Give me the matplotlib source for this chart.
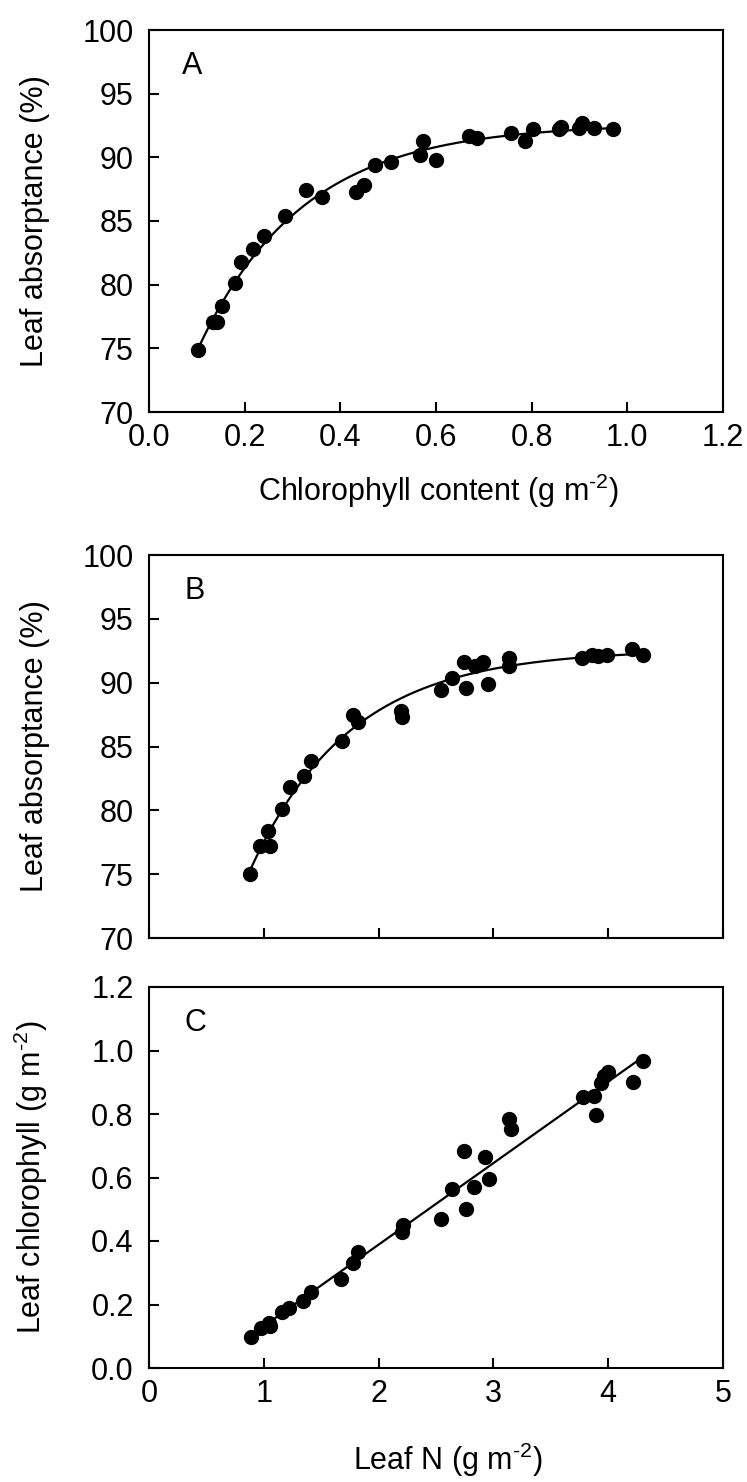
import numpy as np
import matplotlib
matplotlib.use("Agg")
import matplotlib.pyplot as plt

plt.rcParams['font.family'] = ['Liberation Sans', 'DejaVu Sans']
plt.rcParams['mathtext.fontset'] = 'custom'
plt.rcParams['mathtext.rm'] = 'Liberation Sans'
plt.rcParams['mathtext.it'] = 'Liberation Sans:italic'

# panel A: absorptance vs chlorophyll
chl_a = [0.102, 0.134, 0.142, 0.153, 0.179, 0.193, 0.217, 0.240, 0.285, 0.329,
         0.362, 0.432, 0.450, 0.472, 0.505, 0.566, 0.573, 0.599, 0.669, 0.686,
         0.756, 0.786, 0.802, 0.858, 0.862, 0.898, 0.905, 0.930, 0.970]
abs_a = [74.9, 77.1, 77.1, 78.3, 80.1, 81.8, 82.8, 83.8, 85.4, 87.4,
         86.9, 87.3, 87.8, 89.4, 89.6, 90.2, 91.3, 89.8, 91.7, 91.5,
         91.9, 91.3, 92.2, 92.2, 92.4, 92.3, 92.7, 92.3, 92.2]

# panel B: absorptance vs leaf N
n_b = [0.88, 0.967, 1.057, 1.04, 1.157, 1.23, 1.347, 1.407, 1.68, 1.773,
       1.817, 2.197, 2.20, 2.54, 2.64, 2.74, 2.763, 2.907, 2.957, 2.84,
       3.14, 3.133, 3.773, 3.857, 3.907, 3.99, 4.207, 4.30]
abs_b = [75.0, 77.2, 77.2, 78.4, 80.1, 81.8, 82.7, 83.9, 85.4, 87.5,
         86.9, 87.8, 87.3, 89.4, 90.4, 91.6, 89.6, 91.6, 89.9, 91.3,
         91.9, 91.3, 91.9, 92.2, 92.1, 92.2, 92.6, 92.2]

# panel C: chlorophyll vs leaf N
n_c = [0.888, 0.979, 1.041, 1.054, 1.158, 1.216, 1.344, 1.407, 1.672, 1.78,
       1.817, 2.20, 2.213, 2.54, 2.64, 2.743, 2.763, 2.833, 2.93, 2.963,
       3.14, 3.157, 3.78, 3.88, 3.893, 3.94, 3.967, 4.0, 4.213, 4.307]
chl_c = [0.098, 0.125, 0.143, 0.133, 0.177, 0.190, 0.212, 0.238, 0.281, 0.330,
         0.365, 0.428, 0.449, 0.470, 0.564, 0.682, 0.501, 0.570, 0.664, 0.596,
         0.785, 0.753, 0.853, 0.858, 0.798, 0.898, 0.921, 0.932, 0.900, 0.968]


def fit_exp(x, y):
    # y = a - b*exp(-c*x), grid over c, linear lsq for a, b
    x = np.asarray(x); y = np.asarray(y)
    best = None
    for c in np.linspace(0.2, 15, 1500):
        A = np.column_stack([np.ones_like(x), -np.exp(-c * x)])
        coef, *_ = np.linalg.lstsq(A, y, rcond=None)
        r = np.sum((A @ coef - y) ** 2)
        if best is None or r < best[0]:
            best = (r, coef[0], coef[1], c)
    _, a, b, c = best
    return lambda t: a - b * np.exp(-c * t)


W, H = 747, 1482
fig = plt.figure(figsize=(W / 100, H / 100), dpi=100)

left, width = 149 / W, 574 / W
axA = fig.add_axes([left, 1 - 412 / H, width, 382 / H])
axB = fig.add_axes([left, 1 - 938 / H, width, 383 / H])
axC = fig.add_axes([left, 1 - 1368 / H, width, 381 / H])

TICK_FS = 22
LAB_FS = 22
UNIT = r'(g m$^{\text{-}2}$)'

for ax in (axA, axB, axC):
    for s in ax.spines.values():
        s.set_linewidth(1.5)
    ax.tick_params(direction='in', length=7, width=1.5, labelsize=TICK_FS,
                   top=False, right=False)
    ax.tick_params(axis='x', pad=8)
    ax.tick_params(axis='y', pad=11)

# A
fA = fit_exp(chl_a, abs_a)
xx = np.linspace(min(chl_a), max(chl_a), 200)
axA.plot(xx, fA(xx), color='black', lw=1.6)
axA.plot(chl_a, abs_a, 'o', color='black', ms=10)
axA.set_xlim(0, 1.2)
axA.set_ylim(70, 100)
axA.set_xticks(np.arange(0, 1.21, 0.2))
axA.set_xticklabels(['0.0', '0.2', '0.4', '0.6', '0.8', '1.0', '1.2'])
axA.set_yticks(range(70, 101, 5))
axA.set_xlabel('Chlorophyll content ' + UNIT, fontsize=LAB_FS)
axA.set_ylabel('Leaf absorptance (%)', fontsize=LAB_FS)
axA.xaxis.set_label_coords(0.505, -0.155)
axA.yaxis.set_label_coords(-0.172, 0.5)
axA.text(0.057, 0.945, 'A', transform=axA.transAxes, fontsize=TICK_FS, va='top', ha='left')

# B
fB = fit_exp(n_b, abs_b)
xx = np.linspace(min(n_b), max(n_b), 200)
axB.plot(xx, fB(xx), color='black', lw=1.6)
axB.plot(n_b, abs_b, 'o', color='black', ms=10)
axB.set_xlim(0, 5)
axB.set_ylim(70, 100)
axB.set_xticks(range(0, 6))
axB.set_xticklabels([])
axB.set_yticks(range(70, 101, 5))
axB.set_ylabel('Leaf absorptance (%)', fontsize=LAB_FS)
axB.yaxis.set_label_coords(-0.172, 0.5)
axB.text(0.062, 0.945, 'B', transform=axB.transAxes, fontsize=TICK_FS, va='top', ha='left')

# C
k, b0 = np.polyfit(n_c, chl_c, 1)
xx = np.array([min(n_c), max(n_c)])
axC.plot(xx, k * xx + b0, color='black', lw=1.6)
axC.plot(n_c, chl_c, 'o', color='black', ms=10)
axC.set_xlim(0, 5)
axC.set_ylim(0, 1.2)
axC.set_xticks(range(0, 6))
axC.set_yticks(np.arange(0, 1.21, 0.2))
axC.set_yticklabels(['0.0', '0.2', '0.4', '0.6', '0.8', '1.0', '1.2'])
axC.set_xlabel('Leaf N ' + UNIT, fontsize=LAB_FS)
axC.set_ylabel('Leaf chlorophyll ' + UNIT, fontsize=LAB_FS)
axC.xaxis.set_label_coords(0.52, -0.19)
axC.yaxis.set_label_coords(-0.172, 0.5)
axC.text(0.062, 0.945, 'C', transform=axC.transAxes, fontsize=TICK_FS, va='top', ha='left')

fig.savefig('out.png', dpi=100)
